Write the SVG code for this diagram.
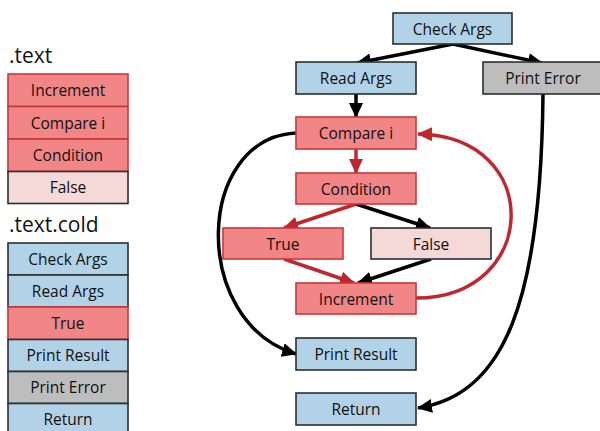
<svg xmlns="http://www.w3.org/2000/svg" width="600" height="431" viewBox="0 0 600 431">
<style>
text{font-family:"Open Sans","Liberation Sans",sans-serif;font-size:15.5px;fill:#111;text-anchor:middle;dominant-baseline:central}
.h{font-size:21px;text-anchor:start;dominant-baseline:alphabetic}
.blue{fill:#B2D2E8;stroke:#2B2F33;stroke-width:1.6}
.red{fill:#F28585;stroke:#C8373D;stroke-width:1.6}
.pink{fill:#F5D8D8;stroke:#2B2F33;stroke-width:1.6}
.gray{fill:#BDBDBD;stroke:#2B2F33;stroke-width:1.6}
.k{fill:none;stroke:#000;stroke-width:3.5}
.r{fill:none;stroke:#C0262D;stroke-width:3.5}
</style>
<defs>
<marker id="ak" markerUnits="userSpaceOnUse" markerWidth="16" markerHeight="16" viewBox="0 0 16 16" refX="14" refY="8" orient="auto"><path d="M0,1 L15,8 L0,15 Z" fill="#000"/></marker>
<marker id="ar" markerUnits="userSpaceOnUse" markerWidth="16" markerHeight="16" viewBox="0 0 16 16" refX="14" refY="8" orient="auto"><path d="M0,1 L15,8 L0,15 Z" fill="#C0262D"/></marker>
</defs>
<rect width="600" height="431" fill="#fff"/>
<g id="legend-text">
<text class="h" x="9" y="63">.text</text>
<g id="l-increment"><rect class="red" x="8" y="74" width="120" height="32.5"/><text x="68" y="90">Increment</text></g>
<g id="l-compare"><rect class="red" x="8" y="106.5" width="120" height="32.5"/><text x="68" y="123">Compare i</text></g>
<g id="l-condition"><rect class="red" x="8" y="139" width="120" height="32.5"/><text x="68" y="155">Condition</text></g>
<g id="l-false"><rect class="pink" x="8" y="171.5" width="120" height="32"/><text x="68" y="187">False</text></g>
</g>
<g id="legend-cold">
<text class="h" x="9" y="232">.text.cold</text>
<g id="l-check"><rect class="blue" x="8" y="243" width="120" height="32"/><text x="68" y="259">Check Args</text></g>
<g id="l-read"><rect class="blue" x="8" y="275" width="120" height="32"/><text x="68" y="291">Read Args</text></g>
<g id="l-true"><rect class="red" x="8" y="307" width="120" height="32.5"/><text x="68" y="323">True</text></g>
<g id="l-printresult"><rect class="blue" x="8" y="339.5" width="120" height="32"/><text x="68" y="355">Print Result</text></g>
<g id="l-printerror"><rect class="gray" x="8" y="371.5" width="120" height="32"/><text x="68" y="387">Print Error</text></g>
<g id="l-return"><rect class="blue" x="8" y="403.5" width="120" height="32"/><text x="68" y="419">Return</text></g>
</g>
<g id="connectors">
<path class="k" d="M453,44 L357,63" marker-end="url(#ak)"/>
<path class="k" d="M453,44 L542,63" marker-end="url(#ak)"/>
<path class="k" d="M356,94 L356,117" marker-end="url(#ak)"/>
<path class="r" d="M356,149 L356,173" marker-end="url(#ar)"/>
<path class="r" d="M356,204 L284,228" marker-end="url(#ar)"/>
<path class="k" d="M356,204 L430,228" marker-end="url(#ak)"/>
<path class="r" d="M284,259 L354,283" marker-end="url(#ar)"/>
<path class="k" d="M431,259 L358,283" marker-end="url(#ak)"/>
<path class="r" d="M416,298 C540,298 545,136 418,134" marker-end="url(#ar)"/>
<path class="k" d="M296,133 C195,138 190,322 296,354" marker-end="url(#ak)"/>
<path class="k" d="M543,94 C541,300 505,395 418,408" marker-end="url(#ak)"/>
</g>
<g id="n-check"><rect class="blue" x="393" y="13" width="119" height="31"/><text x="452.5" y="29">Check Args</text></g>
<g id="n-read"><rect class="blue" x="296" y="62" width="120" height="32"/><text x="356" y="78">Read Args</text></g>
<g id="n-printerror"><rect class="gray" x="483" y="62" width="120" height="32"/><text x="543" y="78">Print Error</text></g>
<g id="n-compare"><rect class="red" x="296" y="117" width="120" height="32"/><text x="356" y="133">Compare i</text></g>
<g id="n-condition"><rect class="red" x="296" y="173" width="120" height="31"/><text x="356" y="188.5">Condition</text></g>
<g id="n-true"><rect class="red" x="223" y="228" width="120" height="31"/><text x="283" y="243.5">True</text></g>
<g id="n-false"><rect class="pink" x="371" y="228" width="120" height="31"/><text x="431" y="243.5">False</text></g>
<g id="n-increment"><rect class="red" x="296" y="283" width="120" height="31"/><text x="356" y="298.5">Increment</text></g>
<g id="n-printresult"><rect class="blue" x="296" y="338" width="120" height="32"/><text x="356" y="354">Print Result</text></g>
<g id="n-return"><rect class="blue" x="296" y="393" width="120" height="32"/><text x="356" y="409">Return</text></g>
</svg>
